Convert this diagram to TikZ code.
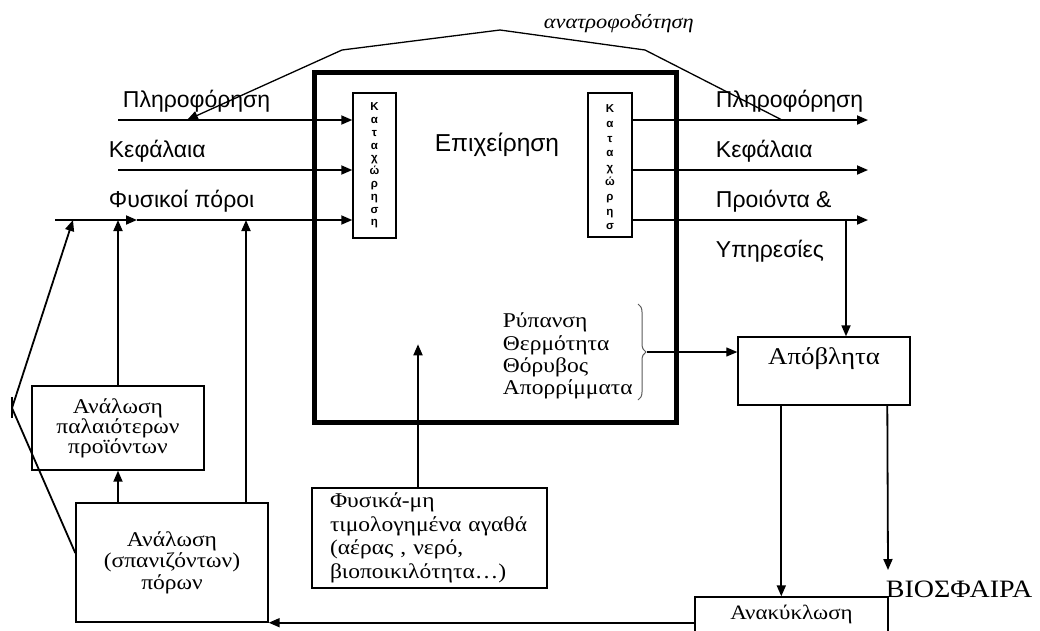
\documentclass[tikz,border=0pt]{standalone}
\usepackage{fontspec}
\setmainfont{Liberation Serif}[FakeStretch=1.12]
\newfontfamily\grsans{Liberation Sans}
\usetikzlibrary{arrows.meta,decorations.pathreplacing}

\begin{document}
\begin{tikzpicture}[x=1pt,y=-1pt,line width=1.8pt,
    >={Triangle[length=11pt,width=9pt]},
    box/.style={draw,line width=1.4pt,inner sep=0pt},
    lbl/.style={font=\grsans\fontsize{23}{27}\selectfont,anchor=base west,inner sep=0pt},
    txt/.style={font=\fontsize{21}{20}\selectfont,align=center}
                   ]
    \useasboundingbox (0,0) rectangle (1040,630);

    % firm and the two inner boxes
    \node[draw,line width=4.5pt,minimum width=362pt,minimum height=350pt,anchor=north west](firm) at (312,70) {};
    \node[font=\grsans\fontsize{24.5}{27}\selectfont](epix) at (497,145) {Επιχείρηση};
    \node[box,minimum width=43pt,minimum height=145pt](kl) at (374.5,165.5) {};
    \node[font=\grsans\bfseries\fontsize{11.5}{12.8}\selectfont,align=center,inner sep=0pt] at (kl.center) {Κ\\α\\τ\\α\\χ\\ώ\\ρ\\η\\σ\\η};
    \node[box,minimum width=44pt,minimum height=144pt](kr) at (610,165) {};
    \begin{scope}
        \clip (kr.south west) rectangle (kr.north east);
        \node[font=\grsans\bfseries\fontsize{11.5}{14.6}\selectfont,align=center,inner sep=0pt,anchor=north] at (610,104) {Κ\\α\\τ\\α\\χ\\ώ\\ρ\\η\\σ\\η};
    \end{scope}

    % inputs
    \node[lbl](inP) at (122,107) {Πληροφόρηση};
    \node[lbl](inK) at (108,157) {Κεφάλαια};
    \node[lbl](inF) at (108,207) {Φυσικοί πόροι};
    \coordinate (i1) at (118,120);
    \coordinate (i2) at (118,170);
    \coordinate (i3) at (55,220);
    \coordinate (m3) at (137,220);
    \draw[->] (i1) -- (i1 -| kl.west);
    \draw[->] (i2) -- (i2 -| kl.west);
    \draw[->] (i3) -- (m3);
    \draw[->] (m3) -- (m3 -| kl.west);

    % outputs
    \node[lbl](outP) at (715,107) {Πληροφόρηση};
    \node[lbl](outK) at (715,157) {Κεφάλαια};
    \node[lbl](outY) at (715,207) {Προιόντα \&};
    \node[lbl](outY2) at (715,257) {Υπηρεσίες};
    \coordinate (o1) at (868,120);
    \coordinate (o2) at (868,170);
    \coordinate (o3) at (868,220);
    \coordinate (o3d) at (846,220);
    \draw[->] (o1 -| kr.east) -- (o1);
    \draw[->] (o2 -| kr.east) -- (o2);
    \draw[->] (o3 -| kr.east) -- (o3);

    % wastes
    \node[box,minimum width=172pt,minimum height=68pt,
          label={[anchor=base,yshift=-28pt,font=\fontsize{24}{25}\selectfont]north:Απόβλητα}](apo) at (824,371) {};
    \draw[->] (o3d) -- (o3d |- apo.north);
    \node[font=\fontsize{21}{22.3}\selectfont,align=left,anchor=west,inner sep=0pt](pol) at (502,356) {Ρύπανση\\Θερμότητα\\Θόρυβος\\Απορρίμματα};
    \draw[line width=1pt,gray!70!black,decorate,decoration={brace,amplitude=8pt}] (638,304) -- (638,400);
    \coordinate (bt) at (647,352);
    \draw[->,line width=1.2pt] (bt) -- (bt -| apo.west);

    \node[box,minimum width=193pt,minimum height=46pt,
          label={[anchor=base,yshift=-23pt,font=\fontsize{20.5}{22}\selectfont]north:Ανακύκλωση}](anak) at (791.5,620) {};
    \node[anchor=base west,inner sep=0pt,font=\fontsize{25}{27}\selectfont](bio) at (885,597) {ΒΙΟΣΦΑΙΡΑ};
    \coordinate (b1) at (888,570);
    \draw[->] ([xshift=44pt]apo.south west) -- ([xshift=44pt]apo.south west |- anak.north);
    \draw[->] ([xshift=150pt]apo.south west) -- (b1);

    % left side
    \node[box,txt,minimum width=172pt,minimum height=84pt](anal1) at (118,428) {Ανάλωση\\παλαιότερων\\προϊόντων};
    \node[box,txt,font=\fontsize{21}{21.5}\selectfont,minimum width=192pt,minimum height=119pt](anal2) at (172,562.5) {Ανάλωση\\(σπανιζόντων)\\πόρων};
    \node[box,txt,font=\fontsize{21}{23.5}\selectfont,align=left,text width=199pt,inner xsep=18pt,minimum height=100pt](fys) at (429.5,538) {Φυσικά-μη\\τιμολογημένα αγαθά\\(αέρας , νερό,\\βιοποικιλότητα…)};
    \draw[->] ([xshift=-11.5pt]fys.north) -- ++(0,-143);

    \coordinate (v) at (12,408);
    \coordinate (u1) at (73,220);
    \coordinate (u3) at (246,220);
    \draw[->] (anal2.north -| anal1.north) -- (anal1.south);
    \draw[->] (anal1.north) -- (anal1.north |- i3);
    \draw[->] (anal2.north -| u3) -- (u3);
    \draw[->] (v) -- (u1);
    \draw (v) -- ([yshift=9.5pt]anal2.west);
    \draw ([yshift=11pt]v) -- ([yshift=-10pt]v);
    \draw[->] (anak.west |- anal2.south) -- (anal2.south east);

    % feedback
    \coordinate (f0) at (782,120);
    \coordinate (f1) at (645,50);
    \coordinate (f2) at (500,30);
    \coordinate (f3) at (342,50);
    \coordinate (f4) at (187,120);
    \draw[->,line width=1.3pt] (f0) -- (f1) -- (f2) -- (f3) -- (f4);
    \node[font=\itshape\fontsize{20}{22}\selectfont,anchor=base west,inner sep=0pt](fb) at (543,28) {ανατροφοδότηση};

\end{tikzpicture}
\end{document}
